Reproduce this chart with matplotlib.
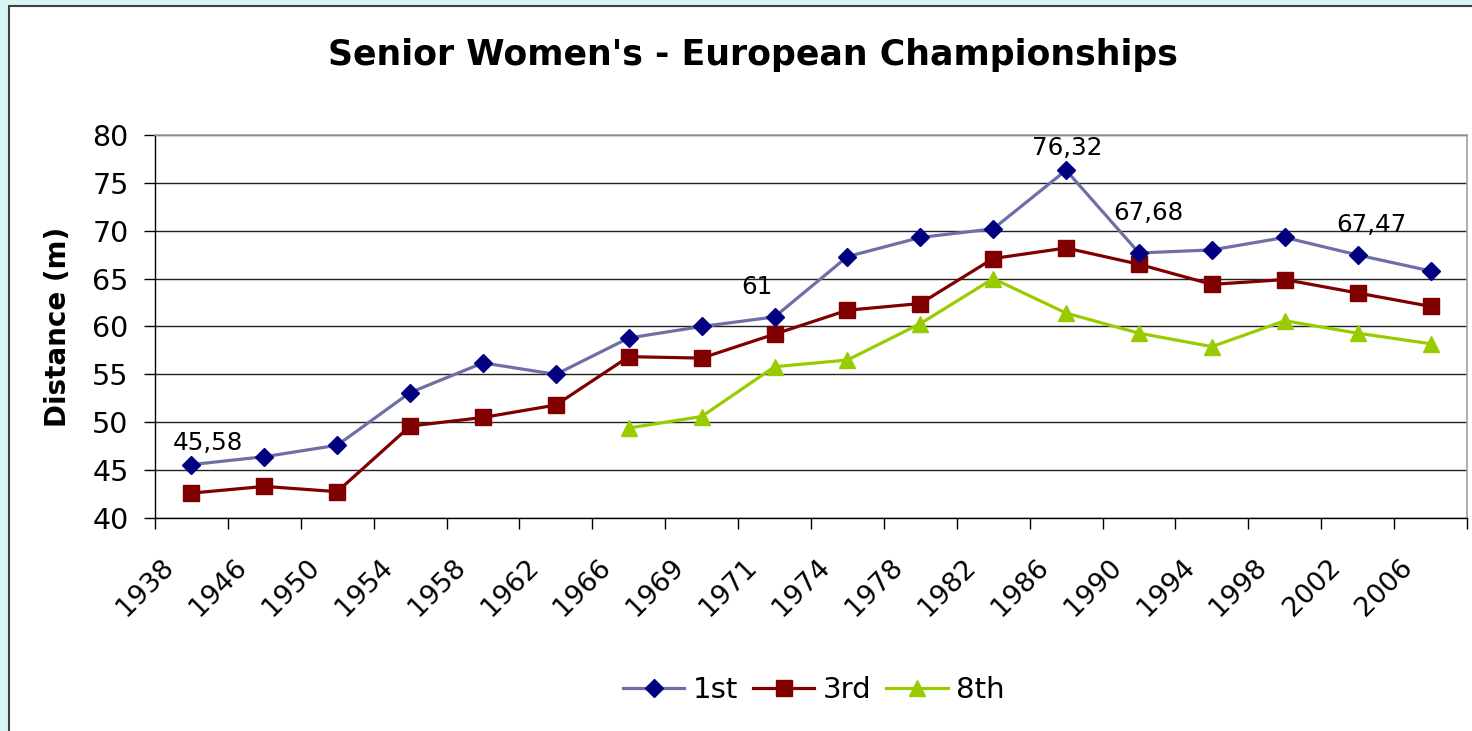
import matplotlib.pyplot as plt
from matplotlib.patches import Rectangle
from matplotlib.transforms import ScaledTranslation

plt.rcParams['font.family'] = ['DejaVu Sans']

years = ["1938", "1946", "1950", "1954", "1958", "1962", "1966", "1969", "1971",
         "1974", "1978", "1982", "1986", "1990", "1994", "1998", "2002", "2006"]
first = [45.58, 46.4, 47.6, 53.1, 56.2, 55.0, 58.8, 60.0, 61.0,
         67.3, 69.3, 70.2, 76.32, 67.68, 68.0, 69.3, 67.47, 65.8]
third = [42.6, 43.3, 42.75, 49.6, 50.5, 51.8, 56.85, 56.7, 59.2,
         61.7, 62.4, 67.1, 68.2, 66.5, 64.4, 64.9, 63.5, 62.1]
eighth = [None, None, None, None, None, None, 49.4, 50.6, 55.8,
          56.5, 60.3, 65.0, 61.4, 59.3, 57.9, 60.6, 59.3, 58.2]

# labelled points (index, text, offset in points)
labels = [(0, "45,58", (11.5, 15.8)), (8, "61", (-13, 21.6)), (12, "76,32", (0.7, 16)),
          (13, "67,68", (7, 28.8)), (16, "67,47", (10, 21.6))]

x = list(range(len(years)))
x8 = [i for i, v in zip(x, eighth) if v is not None]
y8 = [v for v in eighth if v is not None]

fig = plt.figure(figsize=(14.72, 7.31), dpi=100)
fig.patch.set_facecolor("#d8f5f5")
fig.patches.append(Rectangle((9 / 1472, -0.05), 1.1, 1 - 6 / 731 + 0.05,
                             transform=fig.transFigure, facecolor="white",
                             edgecolor="#404040", linewidth=1.5, zorder=-5))

ax = fig.add_axes([155 / 1472, 1 - 518 / 731, 1312 / 1472, 383 / 731])
ax.set_zorder(2)
ax.set_facecolor("white")

ax.plot(x, first, color="#6f6fa8", linewidth=2.3, marker="D", markersize=9,
        markerfacecolor="#000080", markeredgecolor="#000080", label="1st", zorder=4)
ax.plot(x, third, color="#800000", linewidth=2.3, marker="s", markersize=11,
        markerfacecolor="#800000", markeredgecolor="#800000", label="3rd", zorder=3)
ax.plot(x8, y8, color="#99cc00", linewidth=2.3, marker="^", markersize=12,
        markerfacecolor="#99cc00", markeredgecolor="#99cc00", label="8th", zorder=2)

for i, txt, off in labels:
    ax.annotate(txt, (x[i], first[i]), xytext=off, textcoords="offset points",
                ha="center", va="center", fontsize=17.7)

ax.set_xlim(-0.5, len(years) - 0.5)
ax.set_ylim(40, 80)
ax.set_yticks(range(40, 81, 5))
ax.grid(axis="y", color="#222222", linewidth=1)
ax.set_axisbelow(True)

# ticks on category boundaries, rotated year labels at centres
ax.set_xticks([i - 0.5 for i in range(len(years) + 1)])
ax.set_xticklabels([])
shift = ScaledTranslation(-0.215, -0.45, fig.dpi_scale_trans)
for i, yr in zip(x, years):
    ax.text(i, 0, yr, transform=ax.get_xaxis_transform() + shift, rotation=45,
            ha="right", va="center", rotation_mode="anchor", fontsize=19.5,
            clip_on=False)
ax.tick_params(axis="x", which="major", length=8, width=1, color="black")
ax.tick_params(axis="y", length=8, width=1, labelsize=20.5, pad=11)

for s in ["left", "bottom"]:
    ax.spines[s].set_color("black")
    ax.spines[s].set_linewidth(1)
for s in ["top", "right"]:
    ax.spines[s].set_color("#a0a0a0")
    ax.spines[s].set_linewidth(1.2)

ax.set_ylabel("Distance (m)", fontsize=20, fontweight="bold")
ax.yaxis.set_label_coords(-0.0633, 0.5)
fig.text(753 / 1472, 1 - 55 / 731, "Senior Women's - European Championships",
         ha="center", va="center", fontsize=25, fontweight="bold")

fig.legend(loc="center", bbox_to_anchor=(814 / 1472, 1 - 690 / 731), ncol=3,
           frameon=False, fontsize=21, handlelength=2.1, columnspacing=0.5,
           handletextpad=0.3)

fig.savefig("out.png", dpi=100, facecolor=fig.get_facecolor())
